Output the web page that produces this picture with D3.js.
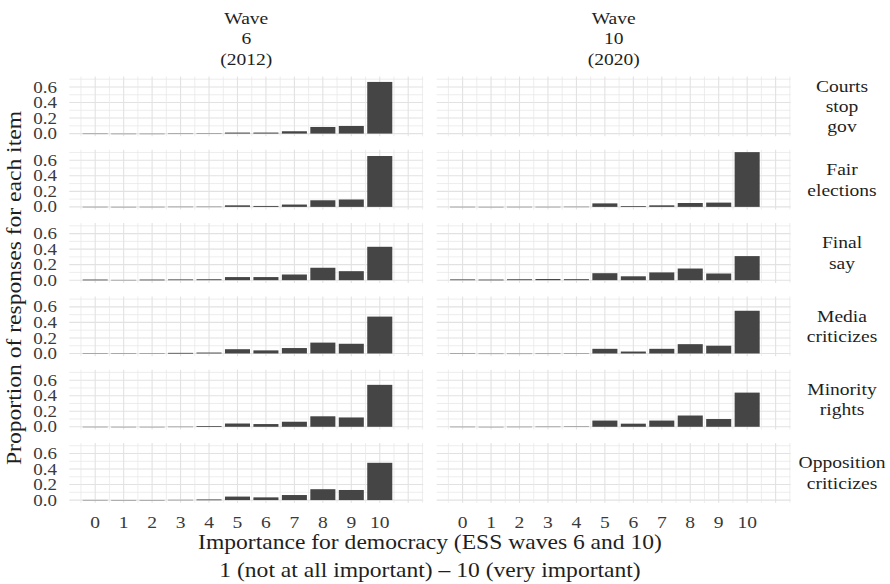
<!DOCTYPE html>
<html>
<head>
<meta charset="utf-8">
<script src="https://cdn.jsdelivr.net/npm/d3@7"></script>
<style>
  html, body { margin: 0; padding: 0; background: #fff; }
  svg { display: block; }
</style>
</head>
<body>
<svg id="chart" width="890" height="584"></svg>
<script>
/* ---------- data ---------- */
const scores = [0, 1, 2, 3, 4, 5, 6, 7, 8, 9, 10];
const yTicks = [0, 0.2, 0.4, 0.6];
const waveLabels = [["Wave", "6", "(2012)"], ["Wave", "10", "(2020)"]];
const itemLabels = [
  ["Courts", "stop", "gov"],
  ["Fair", "elections"],
  ["Final", "say"],
  ["Media", "criticizes"],
  ["Minority", "rights"],
  ["Opposition", "criticizes"]
];

// proportions per item, scores 0..10
const wave6 = [
  [0.003, 0.001, 0.001, 0.004, 0.005, 0.013, 0.013, 0.030, 0.085, 0.098, 0.665],
  [0.003, 0.002, 0.003, 0.005, 0.006, 0.020, 0.012, 0.030, 0.085, 0.095, 0.655],
  [0.008, 0.005, 0.008, 0.010, 0.012, 0.040, 0.040, 0.073, 0.160, 0.116, 0.430],
  [0.005, 0.004, 0.005, 0.008, 0.012, 0.055, 0.040, 0.070, 0.140, 0.125, 0.475],
  [0.002, 0.001, 0.001, 0.004, 0.008, 0.042, 0.035, 0.065, 0.135, 0.120, 0.540],
  [0.003, 0.002, 0.002, 0.005, 0.008, 0.045, 0.035, 0.065, 0.140, 0.130, 0.480]
];
const wave10 = [
  null,
  [0.003, 0.002, 0.003, 0.003, 0.005, 0.045, 0.010, 0.020, 0.050, 0.055, 0.705],
  [0.010, 0.008, 0.012, 0.015, 0.013, 0.090, 0.050, 0.100, 0.150, 0.086, 0.310],
  [0.006, 0.002, 0.002, 0.003, 0.004, 0.060, 0.025, 0.060, 0.120, 0.100, 0.550],
  [0.003, 0.001, 0.003, 0.005, 0.007, 0.080, 0.040, 0.080, 0.145, 0.100, 0.440],
  null
];
const waves = [wave6, wave10];

/* ---------- layout ---------- */
const svg = d3.select("#chart");
const FONT = "'Liberation Serif', 'Times New Roman', serif";
const STRETCH = 1.15;          // glyphs in the figure are wider than Times
const colX = [69.3, 436.7];
const panelW = 354;
const rowTop0 = 76.5, rowStep = 73.3, panelH = 59.8;
const barWidth = 0.88;

svg.append("rect").attr("width", 890).attr("height", 584).attr("fill", "#fff");

function label(g, x, y, str, size, opts = {}) {
  const rot = opts.rotate || 0;
  return g.append("text")
    .attr("transform", `translate(${x},${y}) rotate(${rot}) scale(${STRETCH},1)`)
    .attr("text-anchor", opts.anchor || "middle")
    .attr("font-family", FONT)
    .attr("font-size", size)
    .attr("fill", opts.fill || "#1f1f1f")
    .text(str);
}

const xScales = colX.map((x0) =>
  d3.scaleLinear().domain([-0.91, 11.53]).range([x0, x0 + panelW])
);
const yScales = itemLabels.map((_, i) => {
  const top = rowTop0 + i * rowStep;
  return d3.scaleLinear().domain([-0.035, 0.735]).range([top + panelH, top]);
});

const gridMinorY = [0.1, 0.3, 0.5, 0.7];
const gridX = d3.range(-0.5, 11.51, 0.5);

/* ---------- panels ---------- */
itemLabels.forEach((item, r) => {
  const y = yScales[r];
  waves.forEach((wave, c) => {
    const x = xScales[c];
    const p = svg.append("g").attr("class", `panel r${r} c${c}`);

    p.selectAll("line.hminor").data(gridMinorY).enter().append("line")
      .attr("x1", x.range()[0]).attr("x2", x.range()[1])
      .attr("y1", (d) => y(d)).attr("y2", (d) => y(d))
      .attr("stroke", "#e9e9e9").attr("stroke-width", 0.8);
    p.selectAll("line.hmajor").data(yTicks).enter().append("line")
      .attr("x1", x.range()[0]).attr("x2", x.range()[1])
      .attr("y1", (d) => y(d)).attr("y2", (d) => y(d))
      .attr("stroke", "#e2e2e2").attr("stroke-width", 1.1);
    p.selectAll("line.v").data(gridX).enter().append("line")
      .attr("x1", (d) => x(d)).attr("x2", (d) => x(d))
      .attr("y1", y.range()[0]).attr("y2", y.range()[1])
      .attr("stroke", (d) => (Number.isInteger(d) ? "#e2e2e2" : "#e9e9e9"))
      .attr("stroke-width", (d) => (Number.isInteger(d) ? 1.1 : 0.8));

    const vals = wave[r];
    if (vals) {
      p.selectAll("rect.bar").data(scores).enter().append("rect")
        .attr("x", (s) => x(s - barWidth / 2))
        .attr("width", (s) => x(s + barWidth / 2) - x(s - barWidth / 2))
        .attr("y", (s) => y(vals[s]))
        .attr("height", (s) => Math.max(0.8, y(0) - y(vals[s])))
        .attr("fill", (s) => (vals[s] < 0.008 ? "#9a9a9a" : "#454545"));
    }
  });

  // y tick labels (left column only)
  yTicks.forEach((t) => {
    label(svg, 57, y(t) + 5.6, t.toFixed(1), 16.5, { anchor: "end", fill: "#3a3a3a" });
  });

  // right strip labels
  const cy = (y.range()[0] + y.range()[1]) / 2;
  item.forEach((line, k) => {
    label(svg, 842, cy + (k - (item.length - 1) / 2) * 20.4 + 5.6, line, 17);
  });
});

/* ---------- top strips ---------- */
waveLabels.forEach((lines, c) => {
  const cx = (xScales[c].range()[0] + xScales[c].range()[1]) / 2;
  lines.forEach((line, k) => label(svg, cx, 23.8 + k * 20.4, line, 17));
});

/* ---------- x tick labels ---------- */
xScales.forEach((x) => {
  scores.forEach((s) => label(svg, x(s), 527.5, String(s), 17, { fill: "#3a3a3a" }));
});

/* ---------- axis titles ---------- */
const midX = (colX[0] + colX[1] + panelW) / 2;
label(svg, midX, 549, "Importance for democracy (ESS waves 6 and 10)", 20.5);
label(svg, midX, 576.5, "1 (not at all important) \u2013 10 (very important)", 20.5);
label(svg, 21, 288, "Proportion of responses for each item", 20.5, { rotate: -90 });
</script>
</body>
</html>
